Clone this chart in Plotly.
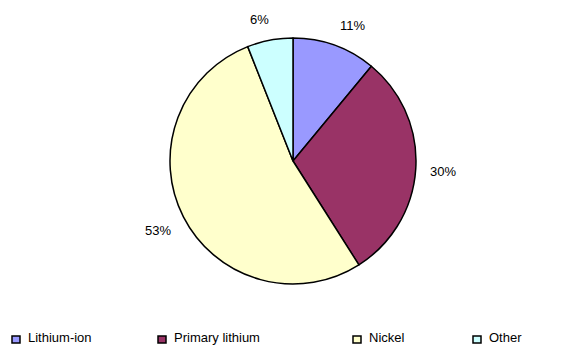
import math
import plotly.graph_objects as go

# Battery chemistry share
labels = ["Lithium-ion", "Primary lithium", "Nickel", "Other"]
values = [11, 30, 53, 6]
colors = ["#9999FF", "#993366", "#FFFFCC", "#CCFFFF"]

W, H = 567, 345
FONT = "Arial, Liberation Sans, sans-serif"

# Pie placement in pixels
CX, CY, R = 293, 161, 123

fig = go.Figure(
    go.Pie(
        labels=labels,
        values=values,
        sort=False,
        direction="clockwise",
        rotation=0,
        marker=dict(colors=colors, line=dict(color="#000000", width=1.5)),
        textinfo="none",
        domain=dict(x=[(CX - R) / W, (CX + R) / W],
                    y=[1 - (CY + R) / H, 1 - (CY - R) / H]),
        showlegend=False,
        hoverinfo="label+percent",
    )
)

annotations, shapes = [], []


def push(t, k=5.0):
    return max(-1.0, min(1.0, t * k))


# Percentage labels: the nearest corner of each label box sits on the
# slice's mid-angle ray, a little beyond the rim
total = sum(values)
start = 0.0
dist = R + 14
for v in values:
    frac = v / total
    theta = 2 * math.pi * (start + frac / 2)
    start += frac
    ux, uy = math.sin(theta), -math.cos(theta)
    txt = f"{round(frac * 100)}%"
    hw = 4.4 * len(txt)
    hh = 7
    px = CX + dist * ux + hw * push(ux)
    py = CY + dist * uy + hh * push(uy)
    annotations.append(dict(
        xref="paper", yref="paper", x=px / W, y=1 - py / H,
        text=txt, showarrow=False, xanchor="center", yanchor="middle",
        font=dict(family=FONT, size=13, color="#000000"),
    ))

# Legend row along the bottom
legend_x = [12, 158, 353, 473]
legend_y = 339
for name, col, x in zip(labels, colors, legend_x):
    shapes.append(dict(
        type="rect", xref="paper", yref="paper",
        x0=x / W, x1=(x + 8) / W,
        y0=1 - (legend_y + 4) / H, y1=1 - (legend_y - 3) / H,
        fillcolor=col, line=dict(color="#000000", width=1.5),
    ))
    annotations.append(dict(
        xref="paper", yref="paper", x=(x + 14) / W, y=1 - (legend_y - 2) / H,
        text=name, showarrow=False, xanchor="left", yanchor="middle",
        font=dict(family=FONT, size=13, color="#000000"),
    ))

fig.update_layout(
    width=W, height=H,
    margin=dict(l=0, r=0, t=0, b=0),
    paper_bgcolor="#FFFFFF",
    plot_bgcolor="#FFFFFF",
    shapes=shapes,
    annotations=annotations,
)

fig.write_html("out.html")
